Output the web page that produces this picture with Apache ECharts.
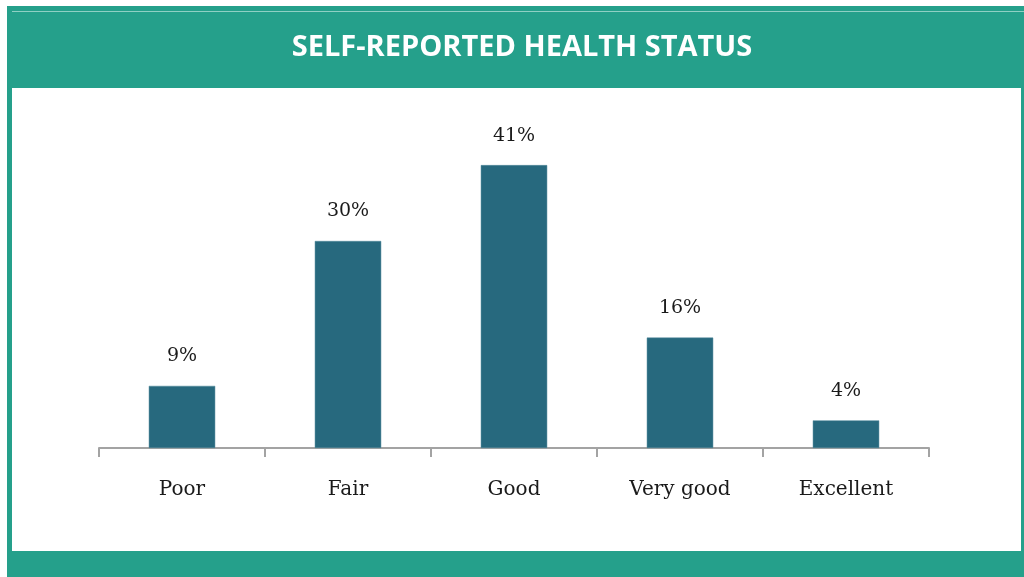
<!DOCTYPE html>
<html>
<head>
<meta charset="utf-8">
<script src="https://cdn.jsdelivr.net/npm/echarts@6/dist/echarts.min.js"></script>
<style>
  html, body { margin: 0; padding: 0; background: #fff; }
  #chart { width: 1024px; height: 577px; }
</style>
</head>
<body>
<div id="chart"></div>
<script>
var categories = ['Poor', 'Fair', 'Good', 'Very good', 'Excellent'];
var shares = [9, 30, 41, 16, 4];
var chartTitle = 'SELF-REPORTED HEALTH STATUS';

var teal = '#25a08b';
var barColor = '#27697e';

var chart = echarts.init(document.getElementById('chart'), null, { renderer: 'canvas' });
var option = {
    backgroundColor: '#ffffff',
    animation: false,
    graphic: [
        // teal frame + header
        { type: 'rect', z: -10, shape: { x: 7, y: 6, width: 1017, height: 571 }, style: { fill: teal } },
        { type: 'rect', z: -9, shape: { x: 12, y: 88, width: 1009, height: 463 }, style: { fill: '#ffffff' } },
        { type: 'line', z: -8, shape: { x1: 12, y1: 11.5, x2: 1024, y2: 11.5 }, style: { stroke: '#8fd0c4', lineWidth: 1 } },
        {
            type: 'text', z: 10, x: 522, y: 48,
            style: {
                text: chartTitle, fill: '#ffffff',
                font: 'bold 29px "Open Sans"',
                textAlign: 'center', textVerticalAlign: 'middle'
            }
        }
    ],
    grid: {
        left: 99,
        right: 95,
        top: 103,
        bottom: 129
    },
    xAxis: {
        type: 'category',
        data: categories,
        axisLine: { lineStyle: { color: '#a3a3a3', width: 2 } },
        axisTick: { show: true, alignWithLabel: false, interval: 0, length: 9, lineStyle: { color: '#a3a3a3', width: 2 } },
        axisLabel: {
            margin: 32,
            color: '#1a1a1a',
            fontFamily: 'DejaVu Serif',
            fontSize: 20
        }
    },
    yAxis: {
        type: 'value',
        show: false,
        min: 0,
        max: 50
    },
    series: [{
        type: 'bar',
        data: shares,
        barWidth: '40%',
        itemStyle: { color: barColor, borderColor: '#4d8799', borderWidth: 0.5 },
        label: {
            show: true,
            position: 'top',
            distance: 20,
            color: '#1a1a1a',
            fontFamily: 'DejaVu Serif',
            fontSize: 19,
            formatter: function (p) { return p.value + '%'; }
        }
    }]
};
chart.setOption(option);
</script>
</body>
</html>
